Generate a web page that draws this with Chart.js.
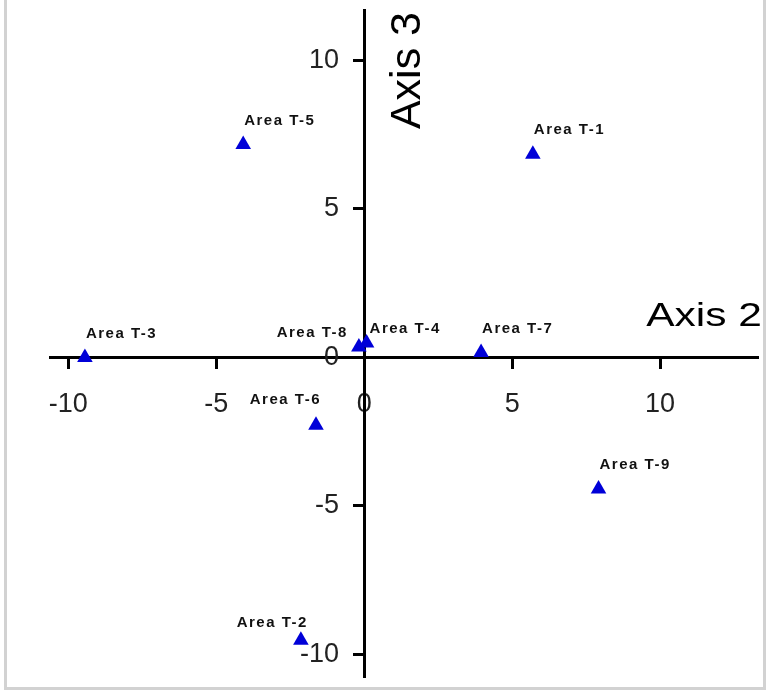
<!DOCTYPE html>
<html>
<head>
<meta charset="utf-8">
<script src="https://cdn.jsdelivr.net/npm/chart.js@4.4.1/dist/chart.umd.min.js"></script>
<style>
  html, body { margin: 0; padding: 0; background: #fff; }
  #frame { position: absolute; left: 4px; top: -10px; width: 762px; height: 700px; box-sizing: border-box; border: 3px solid #d2d2d2; }
  #plot { position: absolute; left: 0; top: 0; }
</style>
</head>
<body>
<div id="frame"></div>
<canvas id="plot" width="767" height="692"></canvas>
<script>
// site scores on axis 2 / axis 3
const areaNames = ["Area T-1", "Area T-2", "Area T-3", "Area T-4", "Area T-5", "Area T-6", "Area T-7", "Area T-8", "Area T-9"];
const axis2Scores = [5.70, -2.14, -9.44, 0.08, -4.09, -1.63, 3.95, -0.18, 7.92];
const axis3Scores = [6.84, -9.52, 0.00, 0.49, 7.17, -2.28, 0.17, 0.35, -4.43];
const axisTicks = [-10, -5, 0, 5, 10];

// where each label sits next to its point: [dx, dy, align]
const labelPlacement = {
  "Area T-4": [3, -14, "left"],
  "Area T-8": [-11, -14, "right"],
  "Area T-6": [5, -25, "right"],
  "Area T-2": [7, -17, "right"]
};

const points = areaNames.map((name, i) => ({ x: axis2Scores[i], y: axis3Scores[i], name }));

const pointLabels = {
  id: "pointLabels",
  afterDatasetsDraw(chart) {
    const { ctx } = chart;
    const meta = chart.getDatasetMeta(0);
    ctx.save();
    ctx.font = "bold 15px 'Liberation Sans', Arial, sans-serif";
    ctx.letterSpacing = "1.5px";
    ctx.fillStyle = "#111";
    ctx.textBaseline = "middle";
    meta.data.forEach((el, i) => {
      const name = areaNames[i];
      const [dx, dy, align] = labelPlacement[name] || [1, -24, "left"];
      ctx.textAlign = align;
      ctx.fillText(name, el.x + dx, el.y + dy);
    });
    ctx.restore();
  }
};

const axisTitles = {
  id: "axisTitles",
  afterDraw(chart) {
    const { ctx, chartArea, scales: { x, y } } = chart;
    const x0 = x.getPixelForValue(0);
    const y0 = y.getPixelForValue(0);
    ctx.save();
    ctx.fillStyle = "#000";
    ctx.textBaseline = "alphabetic";

    // Axis 2, right end above the horizontal axis
    ctx.save();
    ctx.font = "34px 'Liberation Sans', Arial, sans-serif";
    ctx.translate(chartArea.right + 4, y0 - 31);
    ctx.scale(1.25, 1);
    ctx.textAlign = "right";
    ctx.fillText("Axis 2", 0, 0);
    ctx.restore();

    // Axis 3, reading upwards beside the vertical axis
    ctx.save();
    ctx.font = "43px 'Liberation Sans', Arial, sans-serif";
    ctx.translate(x0 + 56, chartArea.top + 2);
    ctx.rotate(-Math.PI / 2);
    ctx.textAlign = "right";
    ctx.fillText("Axis 3", 0, 0);
    ctx.restore();

    ctx.restore();
  }
};

const noEdgePadding = scale => {
  scale.paddingTop = 0;
  scale.paddingBottom = 0;
  scale.paddingLeft = 0;
  scale.paddingRight = 0;
};
const useAxisTicks = scale => {
  scale.ticks = axisTicks.map(v => ({ value: v }));
};

const tickFont = { family: "'Liberation Sans', Arial, sans-serif", size: 27 };
const yMin = -10.76, yMax = 11.70;

new Chart(document.getElementById("plot"), {
  type: "scatter",
  data: {
    datasets: [{
      data: points,
      pointStyle: "triangle",
      pointRadius: 9,
      pointHoverRadius: 9,
      backgroundColor: "#0000d8",
      borderColor: "#0000d8",
      borderWidth: 0
    }]
  },
  options: {
    responsive: false,
    animation: false,
    events: [],
    layout: { padding: { left: 50, right: 5, top: 10, bottom: 15 } },
    plugins: { legend: { display: false }, tooltip: { enabled: false } },
    scales: {
      x: {
        type: "linear",
        min: -10.62,
        max: 13.31,
        position: { y: 0 },
        afterBuildTicks: useAxisTicks,
        afterFit: noEdgePadding,
        border: { display: true, color: "#000", width: 3 },
        grid: { drawOnChartArea: false, drawTicks: true, tickLength: 10, tickWidth: 3, color: "#000" },
        ticks: { color: "#222", font: tickFont, padding: 21, maxRotation: 0 }
      },
      y: {
        type: "linear",
        min: yMin,
        max: yMax,
        position: { x: 0 },
        afterBuildTicks: useAxisTicks,
        afterFit: noEdgePadding,
        border: { display: true, color: "#000", width: 3 },
        grid: { drawOnChartArea: false, drawTicks: true, tickLength: 10, tickWidth: 3, color: "#000" },
        ticks: { display: false }
      },
      // same vertical scale, only carries the tick labels a little left of the axis
      yLabels: {
        type: "linear",
        axis: "y",
        min: yMin,
        max: yMax,
        position: { x: -0.85 },
        afterBuildTicks: useAxisTicks,
        afterFit: noEdgePadding,
        border: { display: false },
        grid: { display: false },
        ticks: { color: "#222", font: tickFont }
      }
    }
  },
  plugins: [pointLabels, axisTitles]
});
</script>
</body>
</html>
